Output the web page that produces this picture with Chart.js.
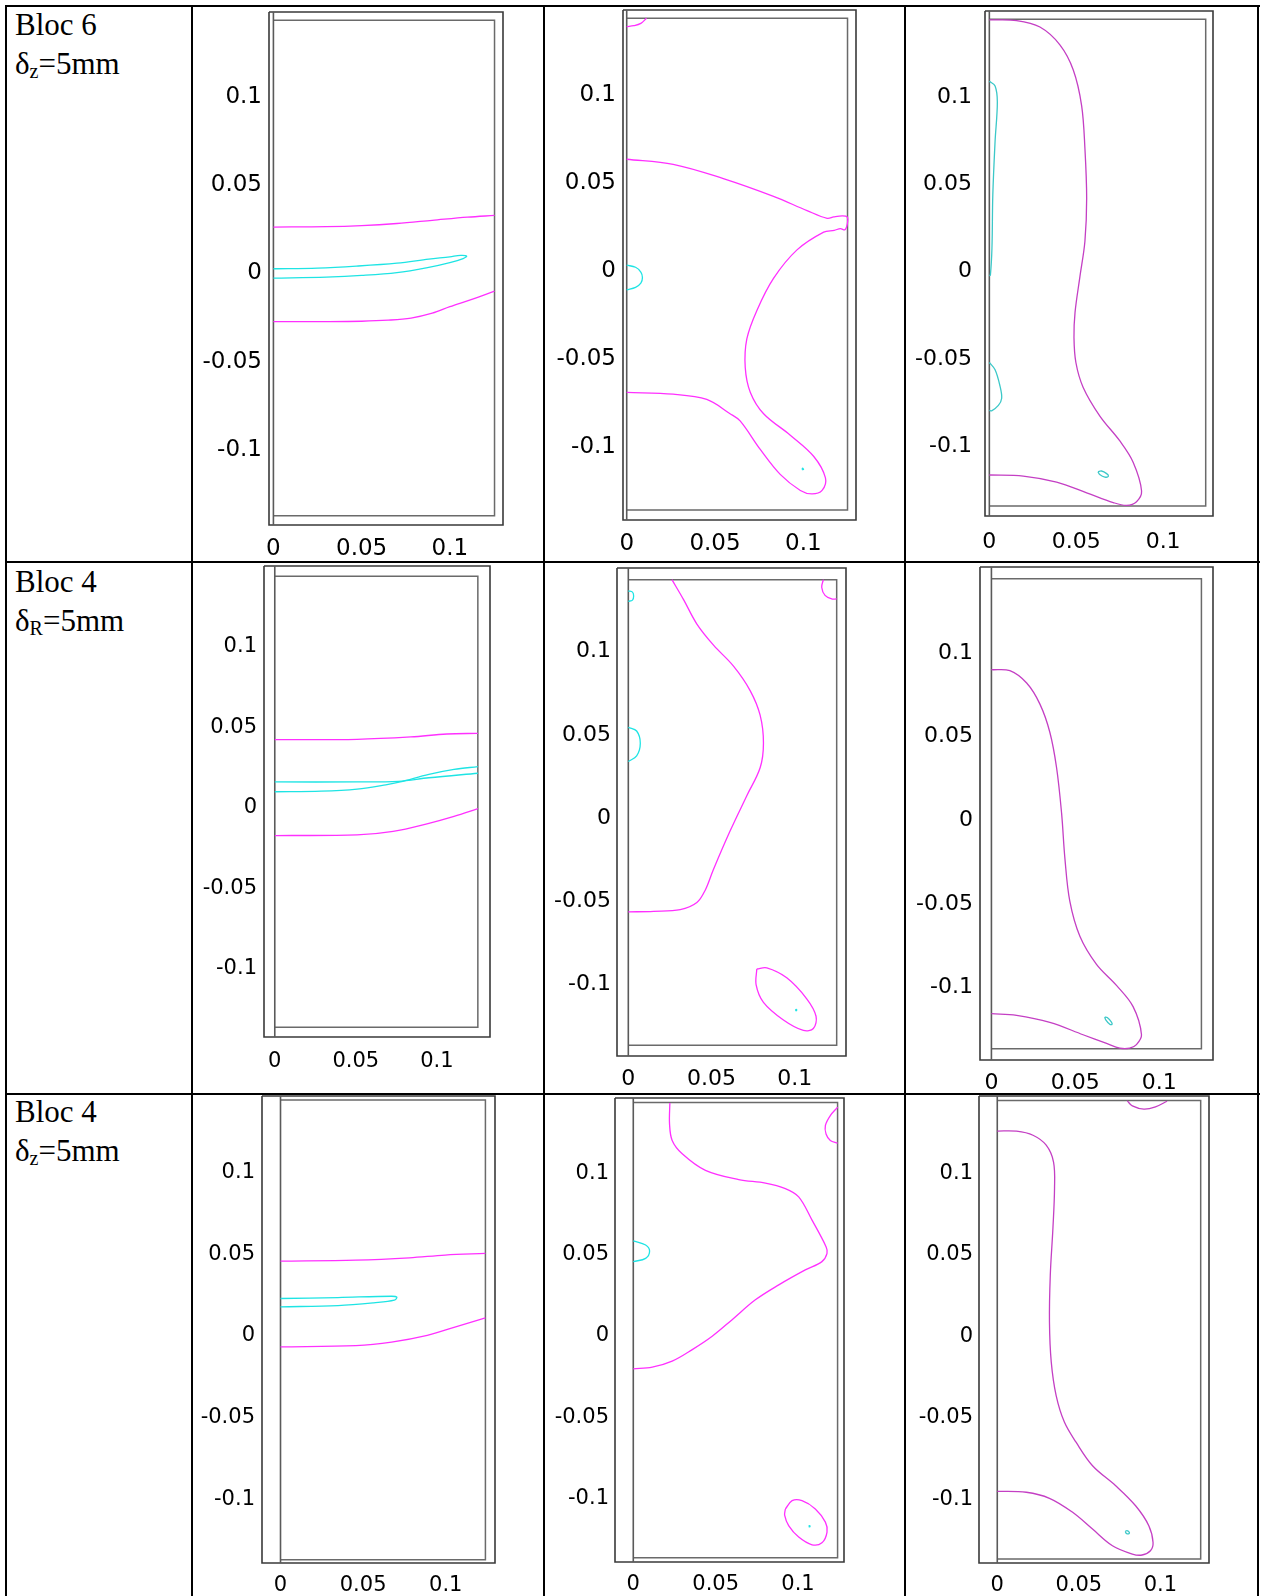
<!DOCTYPE html>
<html><head><meta charset="utf-8">
<script src="https://cdn.jsdelivr.net/npm/chart.js@4.4.1/dist/chart.umd.min.js"></script>
<style>
html,body{margin:0;padding:0;background:#fff;width:1262px;height:1596px;overflow:hidden;position:relative}
.vl{position:absolute;background:#000;width:2px;top:5px;height:1591px}
.hl{position:absolute;background:#000;height:2px;left:5px;width:1255px}
.lab{position:absolute;left:15px;font-family:"Liberation Serif","Times New Roman",serif;font-size:31px;line-height:38.5px;color:#000;white-space:nowrap}
.lab .s{font-size:20px;position:relative;top:4px}
canvas{position:absolute}
</style></head><body>
<div class="vl" style="left:5px"></div>
<div class="vl" style="left:191px"></div>
<div class="vl" style="left:543px"></div>
<div class="vl" style="left:904px"></div>
<div class="vl" style="left:1257px"></div>
<div class="hl" style="top:5px"></div>
<div class="hl" style="top:561px"></div>
<div class="hl" style="top:1093px"></div>
<div class="lab" style="top:6px">Bloc 6<br>δ<span class="s">z</span>=5mm</div>
<div class="lab" style="top:563px">Bloc 4<br>δ<span class="s">R</span>=5mm</div>
<div class="lab" style="top:1093px">Bloc 4<br>δ<span class="s">z</span>=5mm</div>
<script>
// ---------- tick values / labels ----------
const xTickValues = [0, 0.05, 0.1];
const xTickLabels = ['0', '0.05', '0.1'];
const yTickValues = [-0.1, -0.05, 0, 0.05, 0.1];
const yTickLabels = ['-0.1', '-0.05', '0', '0.05', '0.1'];

// ---------- Row 1 (Bloc 6, dz=5mm) ----------
const p1_xRange = [-0.0025, 0.1301];
const p1_yRange = [-0.1445, 0.1468];
const p1_inner = [0.1253, -0.1392, 0.1421];
const p1_magUpper = [[0,0.0247],[0.03,0.0249],[0.05,0.0255],[0.07,0.0267],[0.09,0.0285],[0.11,0.0303],[0.1253,0.0313]];
const p1_cyanLoop = [[0,0.001],[0.025,0.0014],[0.047,0.0025],[0.07,0.0042],[0.088,0.0065],[0.1,0.0078],[0.106,0.0086],[0.1095,0.0082],[0.1075,0.0068],[0.1,0.0045],[0.088,0.0018],[0.07,-0.0012],[0.05,-0.0028],[0.03,-0.0037],[0,-0.0043]];
const p1_magLower = [[0,-0.029],[0.03,-0.029],[0.05,-0.0288],[0.065,-0.0282],[0.078,-0.027],[0.09,-0.0242],[0.1,-0.0205],[0.112,-0.0165],[0.1253,-0.0117]];

const p2_xRange = [-0.0021, 0.1298];
const p2_yRange = [-0.1434, 0.1464];
const p2_inner = [0.125, -0.1377, 0.1417];
const p2_magArc = [[0,0.137],[0.004,0.1375],[0.008,0.1388],[0.0112,0.1417]];
const p2_magMain = [[0,0.0616],[0.0263,0.0587],[0.0547,0.0506],[0.0831,0.0405],[0.1021,0.0324],[0.1135,0.028],[0.1172,0.0288],[0.122,0.0294],[0.1248,0.0288],[0.125,0.0255],[0.1235,0.0215],[0.121,0.0222],[0.1175,0.0212],[0.1115,0.0202],[0.0964,0.0101],[0.0831,-0.0061],[0.0737,-0.0243],[0.068,-0.0405],[0.0671,-0.0567],[0.07,-0.0709],[0.0775,-0.083],[0.0926,-0.0952],[0.1059,-0.1073],[0.1125,-0.1195],[0.1106,-0.1266],[0.1049,-0.1286],[0.0983,-0.1266],[0.0869,-0.1175],[0.0756,-0.1033],[0.0642,-0.0871],[0.0585,-0.083],[0.0453,-0.0749],[0.0263,-0.0719],[0,-0.0709]];
const p2_cyanSemi = [[0,0.0014],[0.005,0.0002],[0.008,-0.0025],[0.0089,-0.0056],[0.008,-0.0088],[0.005,-0.0112],[0,-0.0126]];
const p2_cyanDot = [[0.0992,-0.1147],[0.0996,-0.114],[0.1001,-0.1147],[0.0992,-0.1147]];

const p3_xRange = [-0.0025, 0.1287];
const p3_yRange = [-0.1418, 0.1477];
const p3_inner = [0.1245, -0.1361, 0.143];
const p3_magMain = [[0,0.1426],[0.0157,0.1422],[0.0291,0.1385],[0.0406,0.1283],[0.0483,0.1139],[0.0531,0.0935],[0.055,0.0689],[0.056,0.0403],[0.055,0.0157],[0.0521,-0.0047],[0.0493,-0.0252],[0.0487,-0.0395],[0.0498,-0.0538],[0.054,-0.0681],[0.0636,-0.0845],[0.0751,-0.0988],[0.0828,-0.1111],[0.0876,-0.1275],[0.0847,-0.1336],[0.079,-0.1357],[0.0713,-0.1341],[0.056,-0.1285],[0.0387,-0.1224],[0.0195,-0.1189],[0,-0.1183]];
const p3_cyanTop = [[0,0.1074],[0.0033,0.1047],[0.0046,0.0955],[0.0033,0.073],[0.002,0.0424],[0.0015,0.0117],[0.0006,-0.0037],[0,-0.004]];
const p3_cyanBot = [[0,-0.0538],[0.0033,-0.058],[0.0061,-0.0672],[0.0071,-0.0743],[0.0052,-0.0784],[0.0013,-0.0815],[0,-0.0812]];
const p3_cyanEll = [[0.0625,-0.1165],[0.0645,-0.116],[0.0675,-0.1175],[0.0685,-0.119],[0.0665,-0.1195],[0.0635,-0.118],[0.0625,-0.1165]];

// ---------- Row 2 (Bloc 4, dR=5mm) ----------
const p4_xRange = [-0.00665, 0.1328];
const p4_yRange = [-0.1442, 0.1485];
const p4_inner = [0.1253, -0.1381, 0.1422];
const p4_magUpper = [[0,0.0406],[0.0508,0.0408],[0.084,0.0423],[0.1062,0.0441],[0.1253,0.0445]];
const p4_cyanA = [[0,0.0143],[0.0508,0.0143],[0.0763,0.0147],[0.0951,0.0169],[0.1253,0.0197]];
const p4_cyanB = [[0,0.0082],[0.0286,0.0086],[0.0508,0.0099],[0.0685,0.0125],[0.0774,0.0143],[0.0951,0.019],[0.1106,0.0221],[0.1253,0.0238]];
const p4_magLower = [[0,-0.019],[0.0508,-0.0186],[0.073,-0.0164],[0.0951,-0.0114],[0.1106,-0.0071],[0.1253,-0.0023]];

const p5_xRange = [-0.0068, 0.1308];
const p5_yRange = [-0.1449, 0.1485];
const p5_inner = [0.1252, -0.1385, 0.1415];
const p5_cyanTop = [[0,0.1348],[0.0025,0.134],[0.0032,0.1316],[0.0025,0.1292],[0,0.1285]];
const p5_magCorner = [[0.1172,0.1415],[0.1162,0.1369],[0.1182,0.132],[0.1222,0.1299],[0.1252,0.1299]];
const p5_magMain = [[0.0262,0.1415],[0.0332,0.1295],[0.0412,0.1148],[0.0512,0.1021],[0.0632,0.0895],[0.0732,0.0748],[0.0792,0.06],[0.0812,0.0432],[0.0792,0.0284],[0.0712,0.0116],[0.0612,-0.0095],[0.0512,-0.0326],[0.0462,-0.0452],[0.0412,-0.0526],[0.0312,-0.0569],[0.0152,-0.0579],[0,-0.0583]];
const p5_cyanSemi = [[0,0.0527],[0.005,0.0505],[0.0072,0.0432],[0.005,0.0355],[0,0.0322]];
const p5_magEll = [[0.0772,-0.0926],[0.0832,-0.0919],[0.0952,-0.0979],[0.1072,-0.1105],[0.1128,-0.121],[0.1112,-0.1284],[0.1052,-0.1295],[0.0932,-0.1232],[0.0812,-0.1126],[0.0768,-0.1021],[0.0772,-0.0926]];
const p5_cyanDot = [[0.1004,-0.1173],[0.1008,-0.1169],[0.1012,-0.1173],[0.1008,-0.1177],[0.1004,-0.1173]];

const p6_xRange = [-0.0068, 0.132];
const p6_yRange = [-0.1452, 0.1496];
const p6_inner = [0.1251, -0.1385, 0.1426];
const p6_magMain = [[0,0.0882],[0.011,0.0876],[0.021,0.0802],[0.0289,0.0676],[0.0348,0.0508],[0.0388,0.0297],[0.0418,0.0024],[0.0438,-0.0249],[0.0467,-0.0502],[0.0527,-0.0712],[0.0626,-0.088],[0.0745,-0.1006],[0.0844,-0.1133],[0.0894,-0.1301],[0.0864,-0.136],[0.0824,-0.1381],[0.0765,-0.1381],[0.0686,-0.1353],[0.0546,-0.1301],[0.0348,-0.1227],[0.015,-0.1185],[0,-0.1175]];
const p6_cyanEll = [[0.0675,-0.1195],[0.069,-0.1198],[0.0715,-0.1225],[0.0718,-0.124],[0.0705,-0.1238],[0.068,-0.121],[0.0675,-0.1195]];

// ---------- Row 3 (Bloc 4, dz=5mm) ----------
const p7_xRange = [-0.0112, 0.1298];
const p7_yRange = [-0.1408, 0.1449];
const p7_inner = [0.124, -0.1388, 0.1424];
const p7_magUpper = [[0,0.0439],[0.0456,0.0445],[0.078,0.0459],[0.0996,0.0476],[0.124,0.0486]];
const p7_cyanLoop = [[0,0.021],[0.0348,0.0216],[0.0672,0.0224],[0.0704,0.0218],[0.0689,0.02],[0.0564,0.0184],[0.0348,0.0167],[0,0.0159]];
const p7_magLower = [[0,-0.0086],[0.0456,-0.0078],[0.0672,-0.0057],[0.0888,-0.0016],[0.106,0.0037],[0.124,0.0092]];

const p8_xRange = [-0.0111, 0.1279];
const p8_yRange = [-0.1408, 0.1445];
const p8_inner = [0.124, -0.1382, 0.1418];
const p8_magMain = [[0.0222,0.1414],[0.022,0.1286],[0.0236,0.1184],[0.0297,0.1102],[0.0438,0.1],[0.064,0.0943],[0.0802,0.0922],[0.0923,0.0888],[0.1004,0.0837],[0.1085,0.0694],[0.117,0.0531],[0.1176,0.049],[0.1145,0.0439],[0.1044,0.0388],[0.0883,0.0296],[0.0741,0.0204],[0.06,0.0082],[0.0479,-0.002],[0.0358,-0.0102],[0.0236,-0.0173],[0.0115,-0.021],[0,-0.022]];
const p8_magCorner = [[0.124,0.1388],[0.1196,0.1337],[0.1166,0.1276],[0.117,0.1224],[0.1196,0.1184],[0.124,0.1167]];
const p8_cyanSemi = [[0,0.0567],[0.0075,0.0541],[0.0099,0.0504],[0.0075,0.0459],[0,0.0439]];
const p8_magEll = [[0.0923,-0.1082],[0.0964,-0.1031],[0.1024,-0.1031],[0.1105,-0.1082],[0.1166,-0.1163],[0.1176,-0.1224],[0.1145,-0.129],[0.1085,-0.1302],[0.1004,-0.1255],[0.0943,-0.1184],[0.0919,-0.1122],[0.0923,-0.1082]];
const p8_cyanDot = [[0.1065,-0.1188],[0.1069,-0.1184],[0.1073,-0.1188],[0.1069,-0.1192],[0.1065,-0.1188]];

const p9_xRange = [-0.0112, 0.1298];
const p9_yRange = [-0.1409, 0.1456];
const p9_inner = [0.1247, -0.1385, 0.1428];
const p9_magMain = [[0,0.1241],[0.0118,0.124],[0.0219,0.1215],[0.03,0.1154],[0.0345,0.1051],[0.0351,0.0888],[0.0341,0.0642],[0.0325,0.0356],[0.032,0.0069],[0.0331,-0.0177],[0.0361,-0.0382],[0.0412,-0.0546],[0.0483,-0.0668],[0.0584,-0.0812],[0.0726,-0.0935],[0.0848,-0.1058],[0.0929,-0.118],[0.0955,-0.1283],[0.0939,-0.1334],[0.0888,-0.136],[0.0828,-0.1354],[0.0706,-0.1303],[0.0584,-0.1201],[0.0462,-0.1098],[0.032,-0.1012],[0.0178,-0.0975],[0,-0.0969]];
const p9_magTop = [[0.0797,0.1426],[0.0828,0.1395],[0.0899,0.1375],[0.097,0.1389],[0.1041,0.1424]];
const p9_cyanEll = [[0.0785,-0.1215],[0.0795,-0.121],[0.081,-0.1222],[0.0805,-0.123],[0.079,-0.1226],[0.0785,-0.1215]];

// ---------- panel composition ----------
const panels = [
  {xr:p1_xRange, yr:p1_yRange, inner:p1_inner, mag:[p1_magUpper,p1_magLower], cyan:[p1_cyanLoop], col:2},
  {xr:p2_xRange, yr:p2_yRange, inner:p2_inner, mag:[p2_magArc,p2_magMain], cyan:[p2_cyanSemi,p2_cyanDot], col:3},
  {xr:p3_xRange, yr:p3_yRange, inner:p3_inner, mag:[p3_magMain], cyan:[p3_cyanTop,p3_cyanBot,p3_cyanEll], col:4},
  {xr:p4_xRange, yr:p4_yRange, inner:p4_inner, mag:[p4_magUpper,p4_magLower], cyan:[p4_cyanA,p4_cyanB], col:2},
  {xr:p5_xRange, yr:p5_yRange, inner:p5_inner, mag:[p5_magCorner,p5_magMain,p5_magEll], cyan:[p5_cyanTop,p5_cyanSemi,p5_cyanDot], col:3},
  {xr:p6_xRange, yr:p6_yRange, inner:p6_inner, mag:[p6_magMain], cyan:[p6_cyanEll], col:4},
  {xr:p7_xRange, yr:p7_yRange, inner:p7_inner, mag:[p7_magUpper,p7_magLower], cyan:[p7_cyanLoop], col:2},
  {xr:p8_xRange, yr:p8_yRange, inner:p8_inner, mag:[p8_magMain,p8_magCorner,p8_magEll], cyan:[p8_cyanSemi,p8_cyanDot], col:3},
  {xr:p9_xRange, yr:p9_yRange, inner:p9_inner, mag:[p9_magMain,p9_magTop], cyan:[p9_cyanEll], col:4}
];
// layout: plot box in page pixels [left, top, right, bottom], tick font size, paddings
const panelLayout = [
  {box:[269,12,503,525], fs:23, yPad:7, xPad:10},
  {box:[623,10,856,520], fs:23, yPad:7, xPad:10},
  {box:[985,11,1213,516], fs:22, yPad:13, xPad:13},
  {box:[264,566,490,1037], fs:21, yPad:7, xPad:12},
  {box:[617,568,846,1056], fs:22, yPad:6, xPad:10},
  {box:[980,567,1213,1060], fs:22, yPad:7, xPad:10},
  {box:[262,1096,495,1563], fs:21, yPad:7, xPad:10},
  {box:[615,1098,844,1562], fs:21, yPad:6, xPad:10},
  {box:[979,1096,1209,1563], fs:21, yPad:6, xPad:10}
];

function pts(a){ return a.map(p => ({x:p[0], y:p[1]})); }

function makePanel(p, L){
  const padL = 95, padT = 8, padR = 8, padB = 42, yAxisW = 85, xAxisH = 36;
  const [bl, bt, br, bb] = L.box;
  const W = br - bl + padL + padR, H = bb - bt + padT + padB;
  const c = document.createElement('canvas');
  c.width = W; c.height = H;
  c.style.left = (bl - padL) + 'px'; c.style.top = (bt - padT) + 'px';
  c.style.width = W + 'px'; c.style.height = H + 'px';
  document.body.appendChild(c);
  const [xmin, xmax] = p.xr, [ymin, ymax] = p.yr;
  const [ixr, iyb, iyt] = p.inner;
  const magC = p.col === 4 ? '#c43fc4' : '#ff30ff';
  const cyC = p.col === 4 ? '#3cc8c8' : '#1ee4e4';
  const ds = [];
  p.mag.forEach(a => ds.push({data:pts(a), showLine:true, borderColor:magC, borderWidth:1.3, pointRadius:0, tension:0.35, fill:false}));
  p.cyan.forEach(a => ds.push({data:pts(a), showLine:true, borderColor:cyC, borderWidth:1.3, pointRadius:0, tension:0.35, fill:false}));
  // wall line at r = 0 over the full height, and the inner cavity outline
  ds.push({data:pts([[0,ymax],[0,ymin]]), showLine:true, borderColor:'#5a5a5a', borderWidth:1.6, pointRadius:0, tension:0, clip:false});
  ds.push({data:pts([[0,iyt],[ixr,iyt],[ixr,iyb],[0,iyb]]), showLine:true, borderColor:'#6a6a6a', borderWidth:1.5, pointRadius:0, tension:0, clip:false});
  ds.push({data:pts([[xmin,ymax],[xmax,ymax],[xmax,ymin],[xmin,ymin],[xmin,ymax]]), showLine:true, borderColor:'#3a3a3a', borderWidth:1.6, pointRadius:0, tension:0, clip:false});
  const font = {family:'"DejaVu Sans", Verdana, sans-serif', size:L.fs, lineHeight:1.2};
  new Chart(c, {
    type:'scatter',
    data:{datasets:ds},
    options:{
      responsive:false, animation:false, devicePixelRatio:1,
      layout:{padding:{left:padL - yAxisW, top:padT, right:padR, bottom:padB - xAxisH}},
      plugins:{legend:{display:false}, tooltip:{enabled:false}},
      events:[],
      scales:{
        x:{type:'linear', position:'bottom', min:xmin, max:xmax,
           grid:{display:false, drawTicks:false}, border:{display:false},
           afterFit:s => { s.height = xAxisH; s.paddingLeft = 0; s.paddingRight = 0; },
           afterBuildTicks:s => { s.ticks = xTickValues.map(v => ({value:v})); },
           ticks:{autoSkip:false, maxRotation:0, minRotation:0, padding:L.xPad, color:'#000', font:font,
                  callback:(v,i) => xTickLabels[i]}},
        y:{type:'linear', position:'left', min:ymin, max:ymax,
           grid:{display:false, drawTicks:false}, border:{display:false},
           afterFit:s => { s.width = yAxisW; s.paddingTop = 0; s.paddingBottom = 0; },
           afterBuildTicks:s => { s.ticks = yTickValues.map(v => ({value:v})); },
           ticks:{autoSkip:false, padding:L.yPad, labelOffset:3, color:'#000', font:font,
                  callback:(v,i) => yTickLabels[i]}}
      }
    }
  });
}
panels.forEach((p,i) => makePanel(p, panelLayout[i]));
</script>
</body></html>
